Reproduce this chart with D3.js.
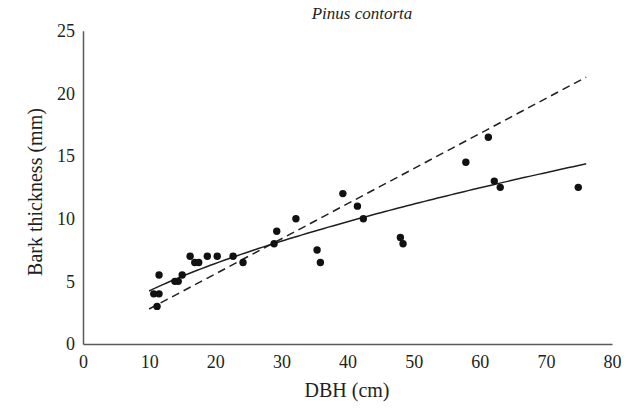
<!DOCTYPE html>
<html>
<head>
<meta charset="utf-8">
<script src="https://cdn.jsdelivr.net/npm/d3@7/dist/d3.min.js"></script>
<style>
  html, body { margin: 0; padding: 0; background: #fff; }
  svg { display: block; }
  text { font-family: "Liberation Serif", "Times New Roman", serif; fill: #231f20; }
</style>
</head>
<body>
<svg id="chart" width="633" height="409"></svg>
<script>
// Measured trees: diameter at breast height (cm) and bark thickness (mm)
const dbh = [10.7, 11.5, 11.2, 11.5, 13.9, 14.4, 15.0, 16.2, 16.9, 17.5, 18.8, 20.3, 22.7, 24.2,
             28.9, 29.3, 32.2, 35.4, 35.9, 39.3, 41.5, 42.4, 48.0, 48.4, 57.9, 61.3, 62.2, 63.1, 74.9];
const bark = [4, 4, 3, 5.5, 5, 5, 5.5, 7, 6.5, 6.5, 7, 7, 7, 6.5,
              8, 9, 10, 7.5, 6.5, 12, 11, 10, 8.5, 8, 14.5, 16.5, 13, 12.5, 12.5];

// Fitted models over the sampled DBH range
const fitRange = [10, 76.1];
const powerFit = [1.055, 0.603];   // bark = a * DBH^b  (solid)
const linearFit = [0.28, -0.01];   // bark = m * DBH + c (dashed)

const xTicks = [0, 10, 20, 30, 40, 50, 60, 70, 80];
const yTicks = [0, 5, 10, 15, 20, 25];

const svg = d3.select("#chart");
const x = d3.scaleLinear().domain([0, 80]).range([83, 612]);
const y = d3.scaleLinear().domain([0, 25]).range([344, 30.7]);

// Axes (no tick marks, just lines and labels)
const axisColor = "#5a5a5a";
const xAxis = d3.axisBottom(x).tickValues(xTicks).tickSize(0).tickPadding(11).tickFormat(d3.format("d"));
const yAxis = d3.axisLeft(y).tickValues(yTicks).tickSize(0).tickPadding(8).tickFormat(d3.format("d"));

const gx = svg.append("g").attr("transform", `translate(0,${y(0)})`).call(xAxis);
const gy = svg.append("g").attr("transform", `translate(${x(0)},0)`).call(yAxis);
[gx, gy].forEach(g => {
  g.select(".domain").attr("stroke", axisColor).attr("stroke-width", 1.5);
  g.selectAll("text").attr("font-family", "Liberation Serif, serif").attr("font-size", 18).attr("fill", "#231f20");
});

// Trend curves
const xs = d3.range(0, 101).map(i => fitRange[0] + (fitRange[1] - fitRange[0]) * i / 100);
const line = d3.line().x(d => x(d[0])).y(d => y(d[1]));

svg.append("path")
  .datum(xs.map(v => [v, powerFit[0] * Math.pow(v, powerFit[1])]))
  .attr("d", line).attr("fill", "none").attr("stroke", "#231f20").attr("stroke-width", 1.5);

svg.append("path")
  .datum(fitRange.map(v => [v, linearFit[0] * v + linearFit[1]]))
  .attr("d", line).attr("fill", "none").attr("stroke", "#231f20")
  .attr("stroke-width", 1.5).attr("stroke-dasharray", "8,5");

// Observations
svg.append("g").selectAll("circle")
  .data(dbh.map((d, i) => [d, bark[i]]))
  .join("circle")
  .attr("cx", d => x(d[0])).attr("cy", d => y(d[1])).attr("r", 3.7)
  .attr("fill", "#111");

// Titles
svg.append("text").attr("x", 362).attr("y", 19).attr("text-anchor", "middle")
  .attr("font-size", 17).attr("font-style", "italic").text("Pinus contorta");

svg.append("text").attr("x", 347).attr("y", 397).attr("text-anchor", "middle")
  .attr("font-size", 20).text("DBH (cm)");

svg.append("text").attr("transform", "translate(42,192) rotate(-90)")
  .attr("text-anchor", "middle").attr("font-size", 20).text("Bark thickness (mm)");
</script>
</body>
</html>
